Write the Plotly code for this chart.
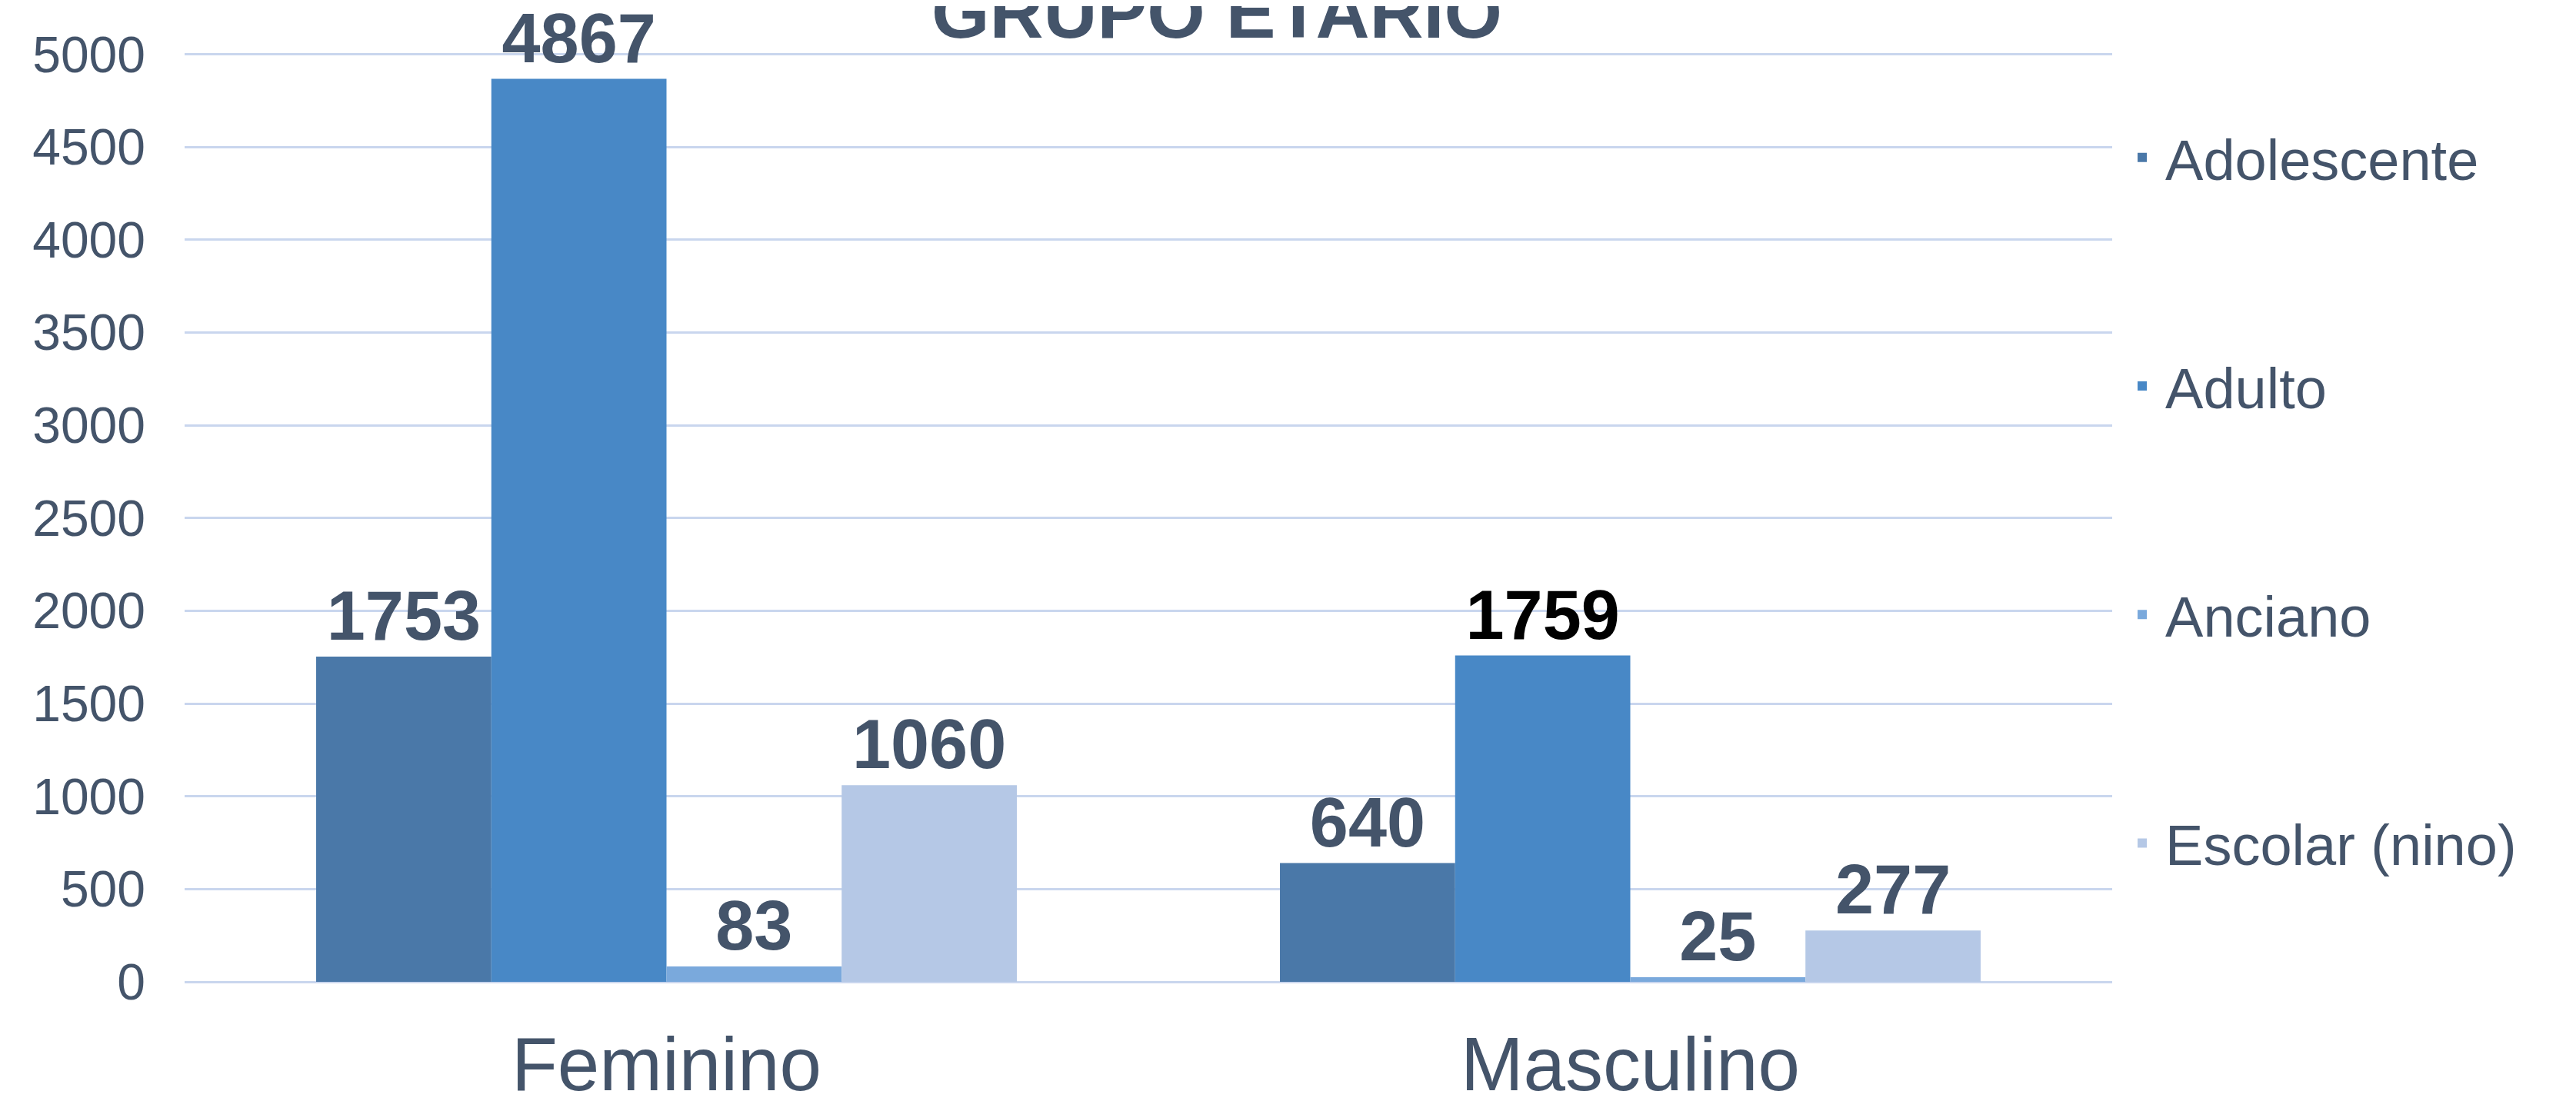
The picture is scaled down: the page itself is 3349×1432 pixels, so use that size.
import plotly.graph_objects as go

categories = ["Feminino", "Masculino"]
series_names = ["Adolescente", "Adulto", "Anciano", "Escolar (nino)"]
adolescente = [1753, 640]
adulto = [4867, 1759]
anciano = [83, 25]
escolar = [1060, 277]
y_ticks = [0, 500, 1000, 1500, 2000, 2500, 3000, 3500, 4000, 4500, 5000]

values = [adolescente, adulto, anciano, escolar]
colors = ["#4a78a8", "#4888c6", "#7aa9dc", "#b5c8e6"]
label_colors = [["#44546A", "#44546A"], ["#44546A", "#000000"],
                ["#44546A", "#44546A"], ["#44546A", "#44546A"]]

TXT = "#44546A"
FONT = "Arial, Liberation Sans, sans-serif"

fig = go.Figure()
for name, vals, col, lc in zip(series_names, values, colors, label_colors):
    fig.add_trace(go.Bar(
        x=categories, y=vals, name=name,
        marker=dict(color=col, line=dict(width=0)),
        text=[str(v) for v in vals], textposition="outside",
        textfont=dict(family=FONT, size=90, color=lc, weight="bold"),
        constraintext="none", cliponaxis=False,
        legendgroup=name,
    ))

fig.update_layout(
    width=3341, height=1424,
    margin=dict(l=232, r=603, t=60, b=155, autoexpand=False),
    paper_bgcolor="white", plot_bgcolor="white",
    barmode="group", bargap=0.273, bargroupgap=0,
    font=dict(family=FONT, color=TXT),
    showlegend=True,
    legend=dict(
        x=1.0036, xanchor="left", y=0.932, yanchor="top",
        font=dict(size=74, color=TXT, family=FONT),
        tracegroupgap=198, itemwidth=50,
        bgcolor="rgba(0,0,0,0)",
    ),
    xaxis=dict(
        tickfont=dict(size=98, color=TXT, family=FONT),
        showgrid=False, showline=False, zeroline=False,
        ticks="", ticklabelstandoff=42, automargin=False,
    ),
    yaxis=dict(
        range=[0, 5010], tickvals=y_ticks,
        tickfont=dict(size=66, color=TXT, family=FONT),
        showgrid=True, gridcolor="#c9d6ee", gridwidth=3,
        zeroline=True, zerolinecolor="#c9d6ee", zerolinewidth=3,
        showline=False, ticks="", ticklabelstandoff=50, automargin=False,
    ),
    annotations=[dict(
        text="<b>GRUPO ETARIO</b>", xref="paper", yref="paper",
        x=0.5355, y=1.0, xanchor="center", yanchor="bottom",
        showarrow=False, yshift=-4,
        font=dict(size=97, color=TXT, family=FONT),
    )],
)

fig.write_html("out.html")
